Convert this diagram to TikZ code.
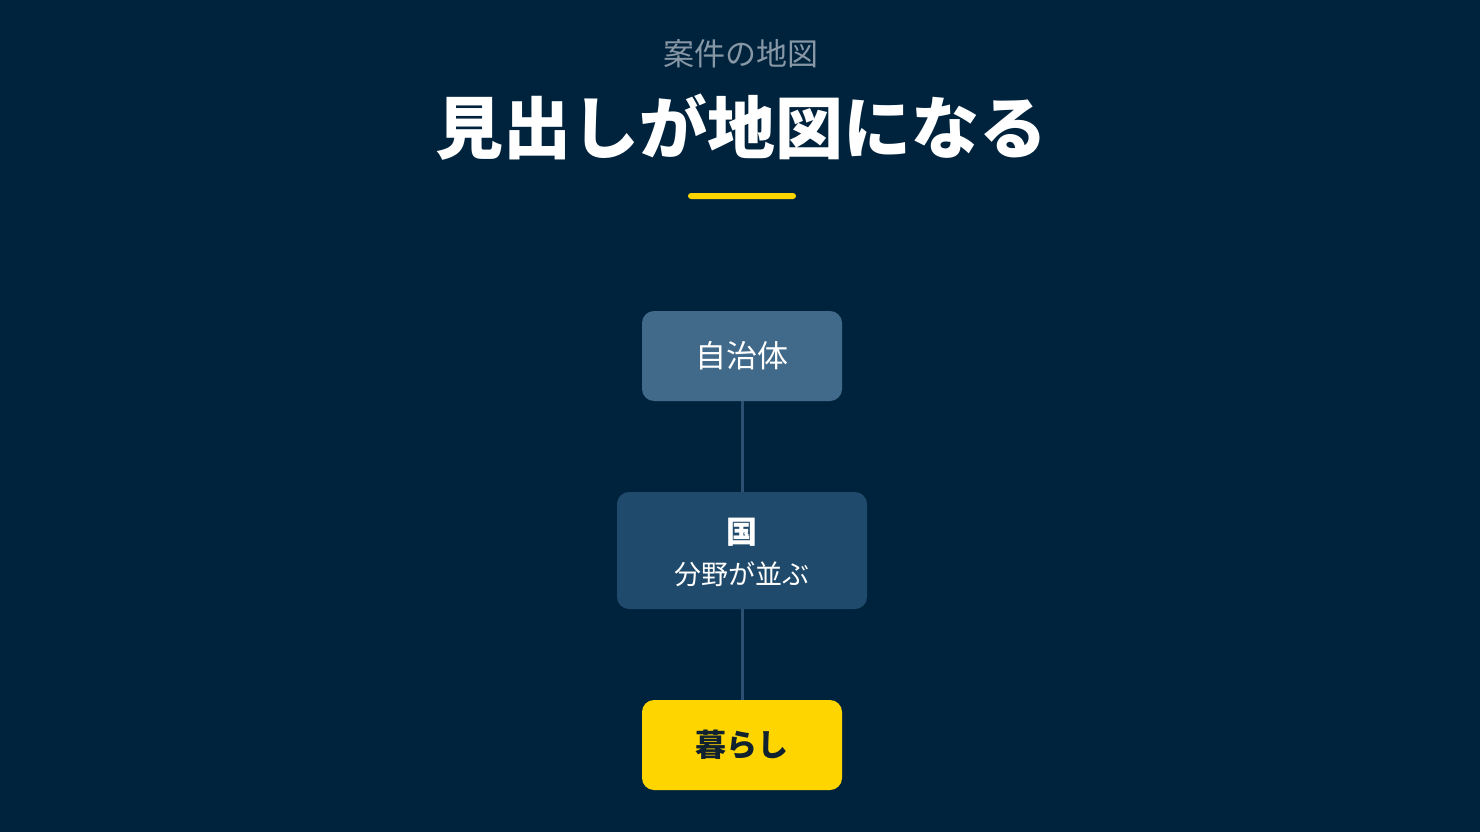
\documentclass[tikz,border=0pt]{standalone}
\usepackage{fontspec}
\setmainfont{Noto Sans CJK JP}
\newfontfamily\jp{Noto Sans CJK JP}
\begin{document}
\begin{tikzpicture}[x=1pt,y=-1pt,
  every node/.style={font=\jp, inner sep=0pt},
  box/.style={rounded corners=12pt, minimum width=200pt, minimum height=90pt, align=center},
  link/.style={draw=linkc, line width=3pt}]
\definecolor{bg}{HTML}{00233D}
\definecolor{boxa}{HTML}{416A8A}
\definecolor{boxb}{HTML}{1F4A6B}
\definecolor{gold}{HTML}{FFD500}
\definecolor{linkc}{HTML}{2B5071}
\definecolor{subg}{HTML}{8797A5}
\definecolor{darktxt}{HTML}{10212F}
\fill[bg] (0,0) rectangle (1480,832);
\useasboundingbox (0,0) rectangle (1480,832);
\node (sub) at (741,54) {\fontsize{31}{34}\selectfont\color{subg}案件の地図};
\node (title) at (741,127) {\fontsize{68}{72}\selectfont\bfseries\color{white}見出しが地図になる};
\fill[gold, rounded corners=3pt] (688,193) rectangle (796,199);
\node[box, fill=boxa] (a) at (742,356) {\fontsize{31}{34}\selectfont\color{white}自治体};
\node[box, fill=boxb, minimum width=250pt, minimum height=117pt] (b) at (742,550.5) {};
\node[align=center] (bt) at (742,552.5)
  {\fontsize{31}{34}\selectfont\bfseries\color{white}国\\[15pt]\fontsize{27}{30}\selectfont\mdseries\color{white}分野が並ぶ};
\node[box, fill=gold] (c) at (742,745) {\fontsize{31}{34}\selectfont\bfseries\color{darktxt}暮らし};
\draw[link] (a.south) -- (b.north);
\draw[link] (b.south) -- (c.north);
\end{tikzpicture}
\end{document}
